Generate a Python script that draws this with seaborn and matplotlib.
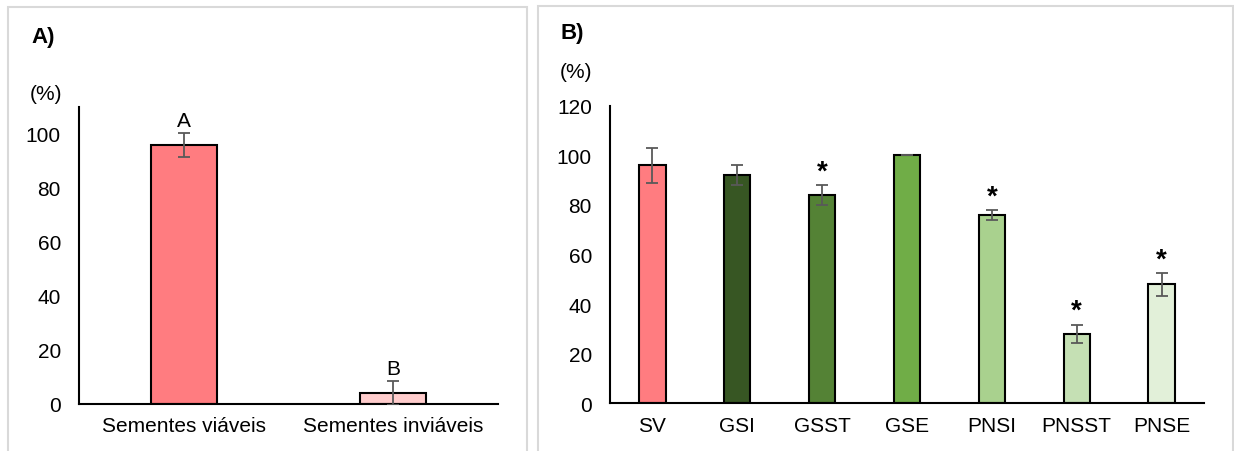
import matplotlib
matplotlib.use("Agg")
import matplotlib.pyplot as plt
from matplotlib.patches import Rectangle
import seaborn as sns
import numpy as np
import pandas as pd

# panel A data
cats_a = ["Sementes viáveis", "Sementes inviáveis"]
vals_a = [96, 4]
err_a = [4.5, 4.5]
letters_a = ["A", "B"]
colors_a = ["#FF7C80", "#FFCCCC"]

# panel B data
cats_b = ["SV", "GSI", "GSST", "GSE", "PNSI", "PNSST", "PNSE"]
vals_b = [96, 92, 84, 100, 76, 28, 48]
err_b = [7, 4, 4, 0, 2, 3.7, 4.6]
stars_b = ["", "", "*", "", "*", "*", "*"]
colors_b = ["#FF7C80", "#375623", "#548235", "#70AD47", "#A9D18E", "#C5E0B4", "#E2F0D9"]

sns.set_style("white")
plt.rcParams['font.family'] = ['Liberation Sans', 'DejaVu Sans']
plt.rcParams['text.color'] = 'black'
plt.rcParams['xtick.color'] = 'black'
plt.rcParams['ytick.color'] = 'black'

fig = plt.figure(figsize=(12.34, 4.52), dpi=100)

# light grey frames around each panel
for x0, x1, ytop in [(8, 527, 8), (538, 1233, 7)]:
    fig.patches.append(Rectangle((x0 / 1234, -0.05), (x1 - x0) / 1234, 1.05 - ytop / 452,
                                 transform=fig.transFigure, fill=False,
                                 edgecolor="#D9D9D9", linewidth=1.5))

ax1 = fig.add_axes([79 / 1234, 47 / 452, 419 / 1234, 297 / 452])
ax2 = fig.add_axes([610 / 1234, 47.7 / 452, 594 / 1234, 297.6 / 452])


def draw_panel(ax, cats, vals, errs, colors, ymax, step, width):
    df = pd.DataFrame({"cat": cats, "val": vals})
    sns.barplot(data=df, x="cat", y="val", hue="cat", palette=colors, legend=False,
                width=width, edgecolor="black", linewidth=1.5, saturation=1, ax=ax)
    pos = np.arange(len(cats))
    ax.errorbar(pos, vals, yerr=errs, fmt="none", ecolor="#595959",
                elinewidth=1.3, capsize=4.5, capthick=1.3, zorder=5)
    ax.set_xlim(-0.5, len(cats) - 0.5)
    ax.set_ylim(0, ymax)
    ax.set_yticks(np.arange(0, ymax + 1, step))
    ax.set_xlabel("")
    ax.set_ylabel("")
    ax.tick_params(axis="both", length=0, labelsize=15, labelcolor="black")
    ax.tick_params(axis="y", pad=13)
    ax.tick_params(axis="x", pad=9)
    for s in ["top", "right"]:
        ax.spines[s].set_visible(False)
    for s in ["left", "bottom"]:
        ax.spines[s].set_color("black")
        ax.spines[s].set_linewidth(1.5)
    return pos


pos_a = draw_panel(ax1, cats_a, vals_a, err_a, colors_a, 110, 20, 0.315)
for p, v, e, t in zip(pos_a, vals_a, err_a, letters_a):
    ax1.text(p, v + e + 1, t, ha="center", va="bottom", fontsize=15)

pos_b = draw_panel(ax2, cats_b, vals_b, err_b, colors_b, 120, 20, 0.31)
for p, v, e, t in zip(pos_b, vals_b, err_b, stars_b):
    if t:
        ax2.text(p, v + e + 5.5, t, ha="center", va="center", fontsize=20, fontweight="bold")

fig.text(31 / 1234, 1 - 38 / 452, "A)", fontsize=16, fontweight="bold", va="center")
fig.text(30 / 1234, 1 - 94 / 452, "(%)", fontsize=15, va="center")
fig.text(560 / 1234, 1 - 33 / 452, "B)", fontsize=16, fontweight="bold", va="center")
fig.text(560 / 1234, 1 - 72 / 452, "(%)", fontsize=15, va="center")

fig.savefig("out.png", dpi=100)
